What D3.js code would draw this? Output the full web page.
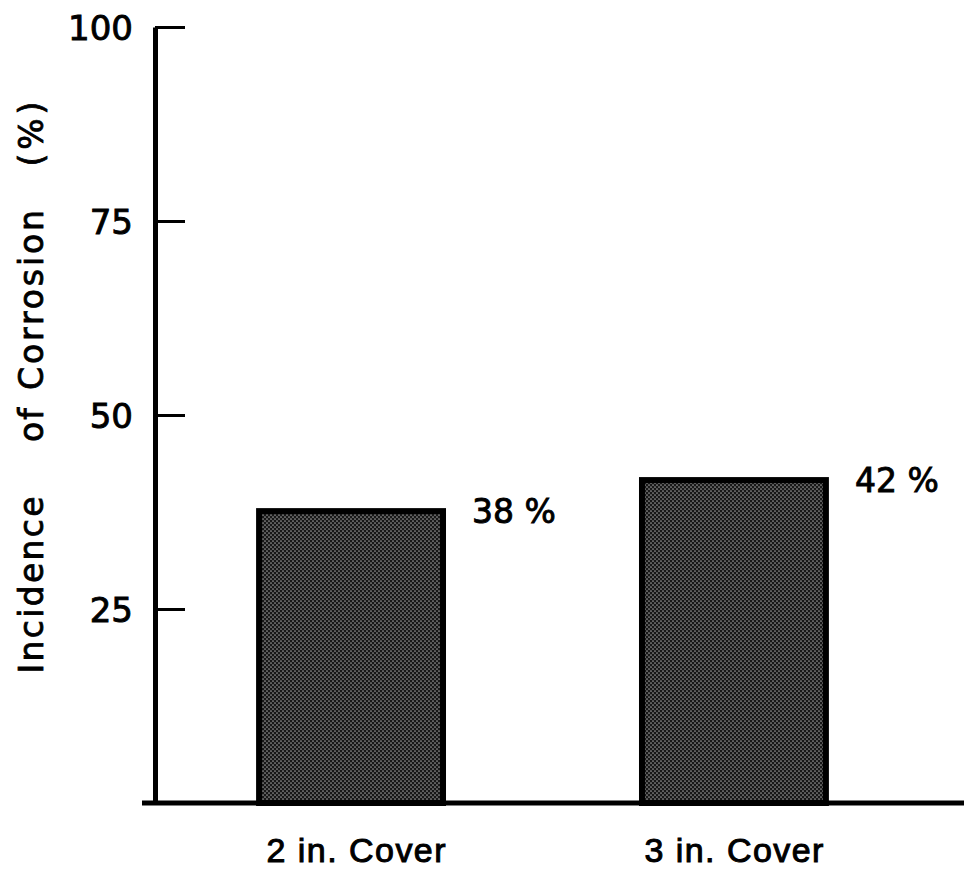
<!DOCTYPE html>
<html>
<head>
<meta charset="utf-8">
<script src="https://cdn.jsdelivr.net/npm/d3@7"></script>
<style>
  html, body { margin: 0; padding: 0; background: #fff; }
  svg { display: block; }
</style>
</head>
<body>
<svg id="chart" width="964" height="872"></svg>
<script>
// Chart data
const categories = ["2 in. Cover", "3 in. Cover"];
const values = [38, 42];
const valueLabels = ["38 %", "42 %"];
const yTicks = [25, 50, 75, 100];
const yTickLabels = ["25", "50", "75", "100"];
const yTitleWords = ["Incidence", "of", "Corrosion", "(%)"];

const svg = d3.select("#chart");
const numFont = "'DejaVu Sans', sans-serif";
const catFont = "'Liberation Sans', Arial, sans-serif";

// Halftone fill used for the bars
const defs = svg.append("defs");
const pat = defs.append("pattern")
  .attr("id", "halftone")
  .attr("patternUnits", "userSpaceOnUse")
  .attr("width", 4).attr("height", 4);
pat.append("rect").attr("width", 4).attr("height", 4).attr("fill", "#181818");
pat.append("circle").attr("cx", 1).attr("cy", 1).attr("r", 0.85).attr("fill", "#9a9a9a");
pat.append("circle").attr("cx", 3).attr("cy", 3).attr("r", 0.85).attr("fill", "#9a9a9a");

// Scales
const y = d3.scaleLinear().domain([0, 100]).range([803, 27]);
const x = d3.scaleBand().domain(categories).range([155, 930])
  .paddingInner(0.504).paddingOuter(0.264);

const axisX = 155;
const baseY = y(0);

// Heavier glyphs, like the lettering on the original figure
function heavy(sel, w) {
  sel.attr("stroke", "#000").attr("stroke-width", w).attr("paint-order", "stroke");
}

// Bars
const bw = 6;
svg.append("g").selectAll("rect")
  .data(values)
  .join("rect")
  .attr("x", (d, i) => x(categories[i]) + bw / 2)
  .attr("y", d => y(d) + bw / 2)
  .attr("width", x.bandwidth() - bw)
  .attr("height", d => baseY - y(d) - bw / 2)
  .attr("fill", "url(#halftone)")
  .attr("stroke", "#000")
  .attr("stroke-width", bw);

// Value labels
svg.append("g").selectAll("text")
  .data(values)
  .join("text")
  .attr("x", (d, i) => x(categories[i]) + x.bandwidth() + 26)
  .attr("y", d => y(d) + 15)
  .attr("font-family", numFont)
  .attr("font-size", 33)
  .attr("fill", "#000")
  .call(heavy, 0.9)
  .text((d, i) => valueLabels[i]);

// Y axis: ticks point inward, labels outside
const yAxis = d3.axisLeft(y)
  .tickValues(yTicks)
  .tickFormat((d, i) => yTickLabels[i])
  .tickSizeInner(-30)
  .tickSizeOuter(0)
  .tickPadding(22);

const gy = svg.append("g")
  .attr("transform", `translate(${axisX},0)`)
  .call(yAxis);
gy.select(".domain").attr("stroke", "#000").attr("stroke-width", 5);
gy.selectAll(".tick line").attr("stroke", "#000").attr("stroke-width", 3);
gy.selectAll(".tick text")
  .attr("font-family", numFont)
  .attr("font-size", 34)
  .attr("fill", "#000")
  .attr("dy", "0.36em")
  .call(heavy, 0.9);

// X axis baseline
svg.append("line")
  .attr("x1", 142).attr("x2", 964)
  .attr("y1", baseY).attr("y2", baseY)
  .attr("stroke", "#000").attr("stroke-width", 5);

// Category labels
const xAxis = d3.axisBottom(x).tickSize(0).tickPadding(0);
const gx = svg.append("g")
  .attr("transform", `translate(0,${baseY})`)
  .call(xAxis);
gx.select(".domain").remove();
gx.selectAll(".tick text")
  .attr("font-family", catFont)
  .attr("font-size", 34)
  .attr("fill", "#000")
  .attr("dy", 0)
  .attr("y", 59)
  .attr("x", (d, i) => i === 0 ? 5 : 0)
  .attr("textLength", 179)
  .attr("lengthAdjust", "spacing")
  .call(heavy, 1);

// Y axis title, one word at a time along the rotated baseline
const titleCenters = [585, 425, 300, 134];
const titleLengths = [177, 34, 180, 65];
const gt = svg.append("g");
yTitleWords.forEach((w, i) => {
  gt.append("text")
    .attr("transform", `translate(43,${titleCenters[i]}) rotate(-90)`)
    .attr("text-anchor", "middle")
    .attr("font-family", numFont)
    .attr("font-size", 33)
    .attr("fill", "#000")
    .attr("textLength", titleLengths[i])
    .attr("lengthAdjust", "spacing")
    .call(heavy, 0.8)
    .text(w);
});
</script>
</body>
</html>
